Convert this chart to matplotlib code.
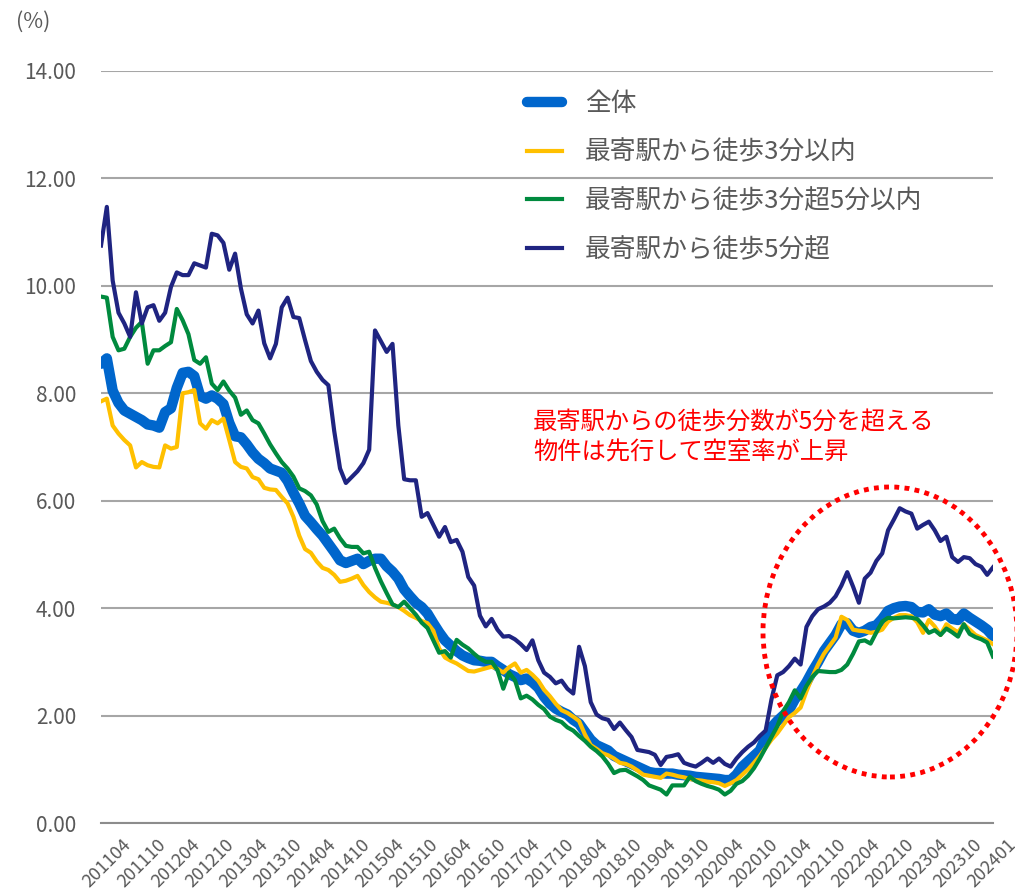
import numpy as np
import pandas as pd
import matplotlib
matplotlib.use("Agg")
import matplotlib.pyplot as plt
from matplotlib.patches import Ellipse
from matplotlib.transforms import ScaledTranslation

plt.rcParams['font.family'] = ['Noto Sans CJK JP', 'DejaVu Sans']

# monthly vacancy rate (%), 2011/04 - 2024/01
months = pd.period_range('2011-04', '2024-01', freq='M').strftime('%Y%m').tolist()

total = [8.55, 8.65, 8.05, 7.82, 7.68, 7.62, 7.56, 7.50, 7.42, 7.40,
         7.36, 7.65, 7.72, 8.10, 8.38, 8.40, 8.32, 7.95, 7.90, 7.96,
         7.90, 7.80, 7.45, 7.20, 7.18, 7.05, 6.90, 6.78, 6.70, 6.60,
         6.56, 6.52, 6.37, 6.15, 5.95, 5.72, 5.60, 5.47, 5.35, 5.20,
         5.05, 4.89, 4.84, 4.88, 4.92, 4.82, 4.88, 4.92, 4.92, 4.78,
         4.68, 4.55, 4.35, 4.22, 4.10, 4.02, 3.90, 3.72, 3.55, 3.40,
         3.30, 3.20, 3.12, 3.07, 3.03, 3.02, 3.00, 3.00, 2.92, 2.85,
         2.77, 2.72, 2.66, 2.69, 2.62, 2.52, 2.35, 2.22, 2.13, 2.07,
         2.02, 1.92, 1.85, 1.70, 1.55, 1.45, 1.40, 1.35, 1.25, 1.20,
         1.15, 1.10, 1.05, 1.00, 0.95, 0.93, 0.93, 0.92, 0.92, 0.90,
         0.89, 0.88, 0.86, 0.85, 0.84, 0.83, 0.82, 0.80, 0.80, 0.90,
         1.05, 1.15, 1.25, 1.35, 1.60, 1.78, 1.90, 2.00, 2.10, 2.30,
         2.45, 2.62, 2.82, 3.00, 3.20, 3.35, 3.50, 3.70, 3.72, 3.58,
         3.54, 3.58, 3.65, 3.68, 3.80, 3.95, 4.00, 4.03, 4.04, 4.02,
         3.93, 3.92, 3.98, 3.88, 3.85, 3.90, 3.80, 3.78, 3.90, 3.82,
         3.75, 3.68, 3.60, 3.48]

within3 = [7.85, 7.90, 7.40, 7.25, 7.13, 7.03, 6.62, 6.72, 6.66, 6.63,
           6.62, 7.03, 6.97, 7.00, 8.00, 8.02, 8.06, 7.44, 7.34, 7.50,
           7.44, 7.53, 7.13, 6.72, 6.63, 6.60, 6.44, 6.40, 6.24, 6.21,
           6.20, 6.07, 5.95, 5.70, 5.35, 5.10, 5.03, 4.87, 4.75, 4.71,
           4.62, 4.49, 4.51, 4.55, 4.60, 4.43, 4.30, 4.20, 4.12, 4.10,
           4.07, 4.02, 3.95, 3.87, 3.82, 3.76, 3.72, 3.58, 3.25, 3.08,
           3.02, 2.97, 2.90, 2.83, 2.82, 2.85, 2.88, 2.91, 2.87, 2.80,
           2.90, 2.97, 2.80, 2.85, 2.76, 2.65, 2.48, 2.36, 2.22, 2.10,
           2.05, 1.98, 1.90, 1.65, 1.45, 1.38, 1.30, 1.26, 1.20, 1.12,
           1.10, 1.05, 0.98, 0.90, 0.88, 0.86, 0.84, 0.92, 0.90, 0.87,
           0.85, 0.82, 0.80, 0.79, 0.77, 0.76, 0.74, 0.69, 0.74, 0.80,
           0.90, 1.00, 1.12, 1.25, 1.40, 1.55, 1.67, 1.82, 1.97, 2.05,
           2.15, 2.45, 2.72, 2.95, 3.15, 3.30, 3.45, 3.84, 3.78, 3.60,
           3.58, 3.57, 3.54, 3.56, 3.60, 3.75, 3.82, 3.87, 3.87, 3.85,
           3.74, 3.54, 3.78, 3.66, 3.50, 3.70, 3.62, 3.55, 3.70, 3.60,
           3.50, 3.45, 3.40, 3.33]

over3_within5 = [9.80, 9.78, 9.05, 8.80, 8.83, 9.05, 9.22, 9.33, 8.55, 8.80,
                 8.80, 8.88, 8.95, 9.57, 9.36, 9.10, 8.62, 8.55, 8.67, 8.18,
                 8.06, 8.22, 8.05, 7.92, 7.60, 7.68, 7.50, 7.44, 7.25, 7.05,
                 6.88, 6.72, 6.60, 6.45, 6.23, 6.18, 6.10, 5.93, 5.62, 5.42,
                 5.48, 5.30, 5.16, 5.14, 5.14, 5.02, 5.05, 4.75, 4.50, 4.28,
                 4.07, 4.02, 4.12, 4.00, 3.88, 3.73, 3.63, 3.40, 3.17, 3.20,
                 3.08, 3.41, 3.32, 3.25, 3.15, 3.06, 3.00, 3.00, 2.85, 2.50,
                 2.80, 2.66, 2.32, 2.37, 2.30, 2.20, 2.12, 1.98, 1.92, 1.88,
                 1.78, 1.72, 1.62, 1.53, 1.42, 1.34, 1.24, 1.10, 0.93, 0.98,
                 0.99, 0.93, 0.87, 0.80, 0.70, 0.66, 0.62, 0.53, 0.70, 0.70,
                 0.70, 0.86, 0.78, 0.73, 0.69, 0.66, 0.62, 0.53, 0.60, 0.73,
                 0.78, 0.88, 1.02, 1.20, 1.40, 1.60, 1.80, 2.08, 2.25, 2.47,
                 2.32, 2.55, 2.72, 2.83, 2.82, 2.81, 2.81, 2.85, 2.95, 3.15,
                 3.38, 3.40, 3.34, 3.55, 3.75, 3.82, 3.81, 3.82, 3.83, 3.82,
                 3.80, 3.68, 3.54, 3.59, 3.50, 3.62, 3.55, 3.47, 3.70, 3.52,
                 3.46, 3.42, 3.36, 3.10]

over5 = [10.75, 11.47, 10.10, 9.50, 9.30, 9.05, 9.88, 9.30, 9.60, 9.64,
         9.35, 9.50, 9.98, 10.25, 10.20, 10.20, 10.42, 10.38, 10.34, 10.97,
         10.94, 10.80, 10.30, 10.60, 9.95, 9.47, 9.30, 9.54, 8.93, 8.65,
         8.92, 9.60, 9.78, 9.42, 9.40, 8.99, 8.60, 8.40, 8.25, 8.15,
         7.30, 6.60, 6.33, 6.44, 6.55, 6.70, 6.95, 9.17, 8.97, 8.77,
         8.92, 7.40, 6.40, 6.38, 6.38, 5.70, 5.77, 5.55, 5.33, 5.51,
         5.23, 5.27, 5.05, 4.58, 4.42, 3.86, 3.66, 3.80, 3.60, 3.47,
         3.48, 3.42, 3.33, 3.22, 3.40, 3.03, 2.80, 2.72, 2.60, 2.65,
         2.50, 2.41, 3.28, 2.92, 2.25, 2.02, 1.95, 1.92, 1.75, 1.87,
         1.73, 1.60, 1.36, 1.34, 1.32, 1.27, 1.08, 1.23, 1.25, 1.28,
         1.12, 1.08, 1.05, 1.12, 1.20, 1.12, 1.20, 1.10, 1.05, 1.20,
         1.32, 1.42, 1.50, 1.62, 1.72, 2.30, 2.75, 2.81, 2.92, 3.06,
         2.95, 3.65, 3.85, 3.98, 4.03, 4.10, 4.22, 4.42, 4.67, 4.40,
         4.10, 4.55, 4.66, 4.88, 5.02, 5.45, 5.65, 5.86, 5.80, 5.76,
         5.48, 5.55, 5.61, 5.45, 5.25, 5.33, 4.95, 4.86, 4.95, 4.93,
         4.82, 4.77, 4.62, 4.76]

labels = ['全体', '最寄駅から徒歩3分以内', '最寄駅から徒歩3分超5分以内', '最寄駅から徒歩5分超']
note = '最寄駅からの徒歩分数が5分を超える\n物件は先行して空室率が上昇'

# every 6th month, plus the latest one
tick_labels = months[::6] + [months[-1]]

txt_gray = '#595959'
grid_gray = '#A6A6A6'

fig = plt.figure(figsize=(10.15, 8.9), dpi=100)
ax = fig.add_axes([101 / 1015, 67 / 890, 892 / 1015, 752 / 890])

x = np.arange(len(months))
ax.plot(x, total, color='#0066CC', lw=7.5, solid_capstyle='round', solid_joinstyle='round',
        label=labels[0], zorder=3)
ax.plot(x, within3, color='#FFC000', lw=3, solid_joinstyle='round', label=labels[1], zorder=4)
ax.plot(x, over3_within5, color='#008A3E', lw=3, solid_joinstyle='round', label=labels[2], zorder=5)
ax.plot(x, over5, color='#1F2481', lw=3, solid_joinstyle='round', label=labels[3], zorder=6)

ax.set_xlim(0, len(months) - 1)
ax.set_ylim(0, 14)
ax.set_yticks(np.arange(0, 15, 2))
ax.set_yticklabels([f'{v:.2f}' for v in np.arange(0, 15, 2)])
ax.yaxis.grid(True, color=grid_gray, lw=1.5)
ax.set_axisbelow(True)
for side in ['top', 'right', 'left']:
    ax.spines[side].set_visible(False)
ax.spines['bottom'].set_color('#8C8C8C')
ax.spines['bottom'].set_linewidth(1.5)
ax.spines['bottom'].set_zorder(1)

# category labels are spread evenly along the axis
ax.set_xticks(np.linspace(0, 151.8, len(tick_labels)))
ax.set_xticklabels(tick_labels, rotation=45, ha='center', va='top')
ax.tick_params(axis='x', length=0, pad=9, labelsize=13, labelcolor=txt_gray)
ax.tick_params(axis='y', length=0, pad=18, labelsize=15, labelcolor=txt_gray)
shift = ScaledTranslation(6.5 / 100, 0, fig.dpi_scale_trans)
for lbl in ax.get_xticklabels():
    lbl.set_transform(lbl.get_transform() + shift)

fig.text(16 / 1015, 1 - 22 / 890, '(%)', fontsize=15.5, color=txt_gray, va='center', ha='left')

leg = ax.legend(loc='upper left', bbox_to_anchor=(527 / 1015, 1 - 91 / 890),
                bbox_transform=fig.transFigure, frameon=False, fontsize=18.5,
                handlelength=1.35, handletextpad=0.9, labelspacing=0.88,
                borderpad=0, borderaxespad=0)
for t in leg.get_texts():
    t.set_color(txt_gray)

fig.text(533 / 1015, 1 - 437 / 890, note, fontsize=17.5, color='#FF0000',
         va='center', ha='left', linespacing=1.2)

ring = Ellipse((890 / 1015, 1 - 632 / 890), 254 / 1015, 290 / 890,
               transform=fig.transFigure, fill=False, edgecolor='#FF0000',
               lw=3.5, linestyle=(0, (1, 1.1)), zorder=10)
fig.add_artist(ring)

fig.savefig('out.png', dpi=100)
